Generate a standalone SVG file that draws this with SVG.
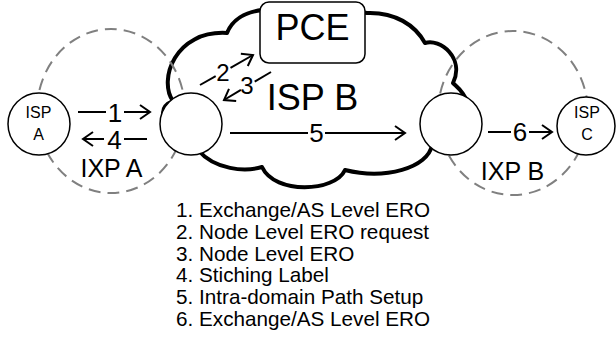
<svg xmlns="http://www.w3.org/2000/svg" width="616" height="352" viewBox="0 0 616 352">
<style>
text{font-family:"Liberation Sans",Arial,sans-serif;fill:#000}
.mid{text-anchor:middle}
.node{fill:#fff;stroke:#000;stroke-width:1.5}
.ixp{fill:none;stroke:#808080;stroke-width:2;stroke-dasharray:12 7}
.cloud{fill:#fff;stroke:#000;stroke-width:4;stroke-linejoin:round}
.arr{fill:none;stroke:#000;stroke-width:2}
.big{font-size:36px}
.lab{font-size:25px}
.num{font-size:26px}
.num2{font-size:24px}
.small{font-size:16px}
.leg{font-size:20.7px}
</style>
<defs>
<marker id="ah" markerUnits="userSpaceOnUse" markerWidth="20" markerHeight="20" viewBox="-12 -10 14 20" refX="0" refY="0" orient="auto">
<path d="M-10,-7 L0,0 L-10,7" fill="none" stroke="#000" stroke-width="2"/>
</marker>
</defs>
<g id="isp-b-cloud">
<path class="cloud" d="M172,125 C160,118 160,106 173,101 C158,80 175,30 227,33 C232,20 245,12 262,10 L360,12 L367,13 C395,12 415,25 425,43 C440,38 465,58 453,83 C458,88 465,92 470,110 L440,140 L432,145 C428,168 385,180 345,170 C335,192 275,195 262,167 C245,172 215,170 198,150 Z"/>
<text class="big mid" x="312.5" y="110">ISP B</text>
</g>
<g id="ixp-a">
<ellipse class="ixp" cx="111" cy="111" rx="74" ry="82"/>
<text class="lab mid" x="111.5" y="177">IXP A</text>
</g>
<g id="ixp-b">
<ellipse class="ixp" cx="513" cy="113" rx="75" ry="82"/>
<text class="lab mid" x="512.5" y="180">IXP B</text>
</g>
<g id="pce">
<rect class="node" x="260" y="2" width="105" height="61" rx="9"/>
<text class="big mid" x="312.5" y="40">PCE</text>
</g>
<g id="isp-a">
<circle class="node" cx="39" cy="124" r="31"/>
<text class="small mid" x="38.5" y="118">ISP</text>
<text class="small mid" x="38.5" y="140">A</text>
</g>
<g id="router-a">
<circle class="node" cx="191" cy="124" r="31"/>
</g>
<g id="router-b">
<circle class="node" cx="451" cy="124" r="31"/>
</g>
<g id="isp-c">
<circle class="node" cx="586" cy="126" r="29"/>
<text class="small mid" x="587" y="118">ISP</text>
<text class="small mid" x="587" y="140">C</text>
</g>
<g id="connectors">
<line class="arr" x1="78" y1="112" x2="106" y2="112"/>
<line class="arr" x1="124" y1="112" x2="150" y2="112" marker-end="url(#ah)"/>
<text class="num mid" x="115" y="121.5">1</text>
<line class="arr" x1="104" y1="139" x2="83" y2="139" marker-end="url(#ah)"/>
<line class="arr" x1="124" y1="139" x2="147" y2="139"/>
<text class="num mid" x="114.5" y="148.5">4</text>
<line class="arr" x1="230" y1="133" x2="308" y2="133"/>
<line class="arr" x1="325" y1="133" x2="405" y2="133" marker-end="url(#ah)"/>
<text class="num mid" x="316.5" y="142">5</text>
<line class="arr" x1="488" y1="132" x2="511" y2="132"/>
<line class="arr" x1="529" y1="132" x2="552" y2="132" marker-end="url(#ah)"/>
<text class="num mid" x="520" y="141">6</text>
<line class="arr" x1="200" y1="85" x2="215.7" y2="76.2"/>
<line class="arr" x1="230.5" y1="67.8" x2="253" y2="55" marker-end="url(#ah)"/>
<text class="num2 mid" x="223" y="80.5">2</text>
<line class="arr" x1="271" y1="72" x2="254.7" y2="81.7"/>
<line class="arr" x1="240.9" y1="89.9" x2="224" y2="100" marker-end="url(#ah)"/>
<text class="num2 mid" x="247" y="93.5">3</text>
</g>
<g id="legend">
<text class="leg" x="176" y="217.3">1. Exchange/AS Level ERO</text>
<text class="leg" x="176" y="239">2. Node Level ERO request</text>
<text class="leg" x="176" y="260.7">3. Node Level ERO</text>
<text class="leg" x="176" y="282.4">4. Stiching Label</text>
<text class="leg" x="176" y="304.1">5. Intra-domain Path Setup</text>
<text class="leg" x="176" y="325.8">6. Exchange/AS Level ERO</text>
</g>
</svg>
